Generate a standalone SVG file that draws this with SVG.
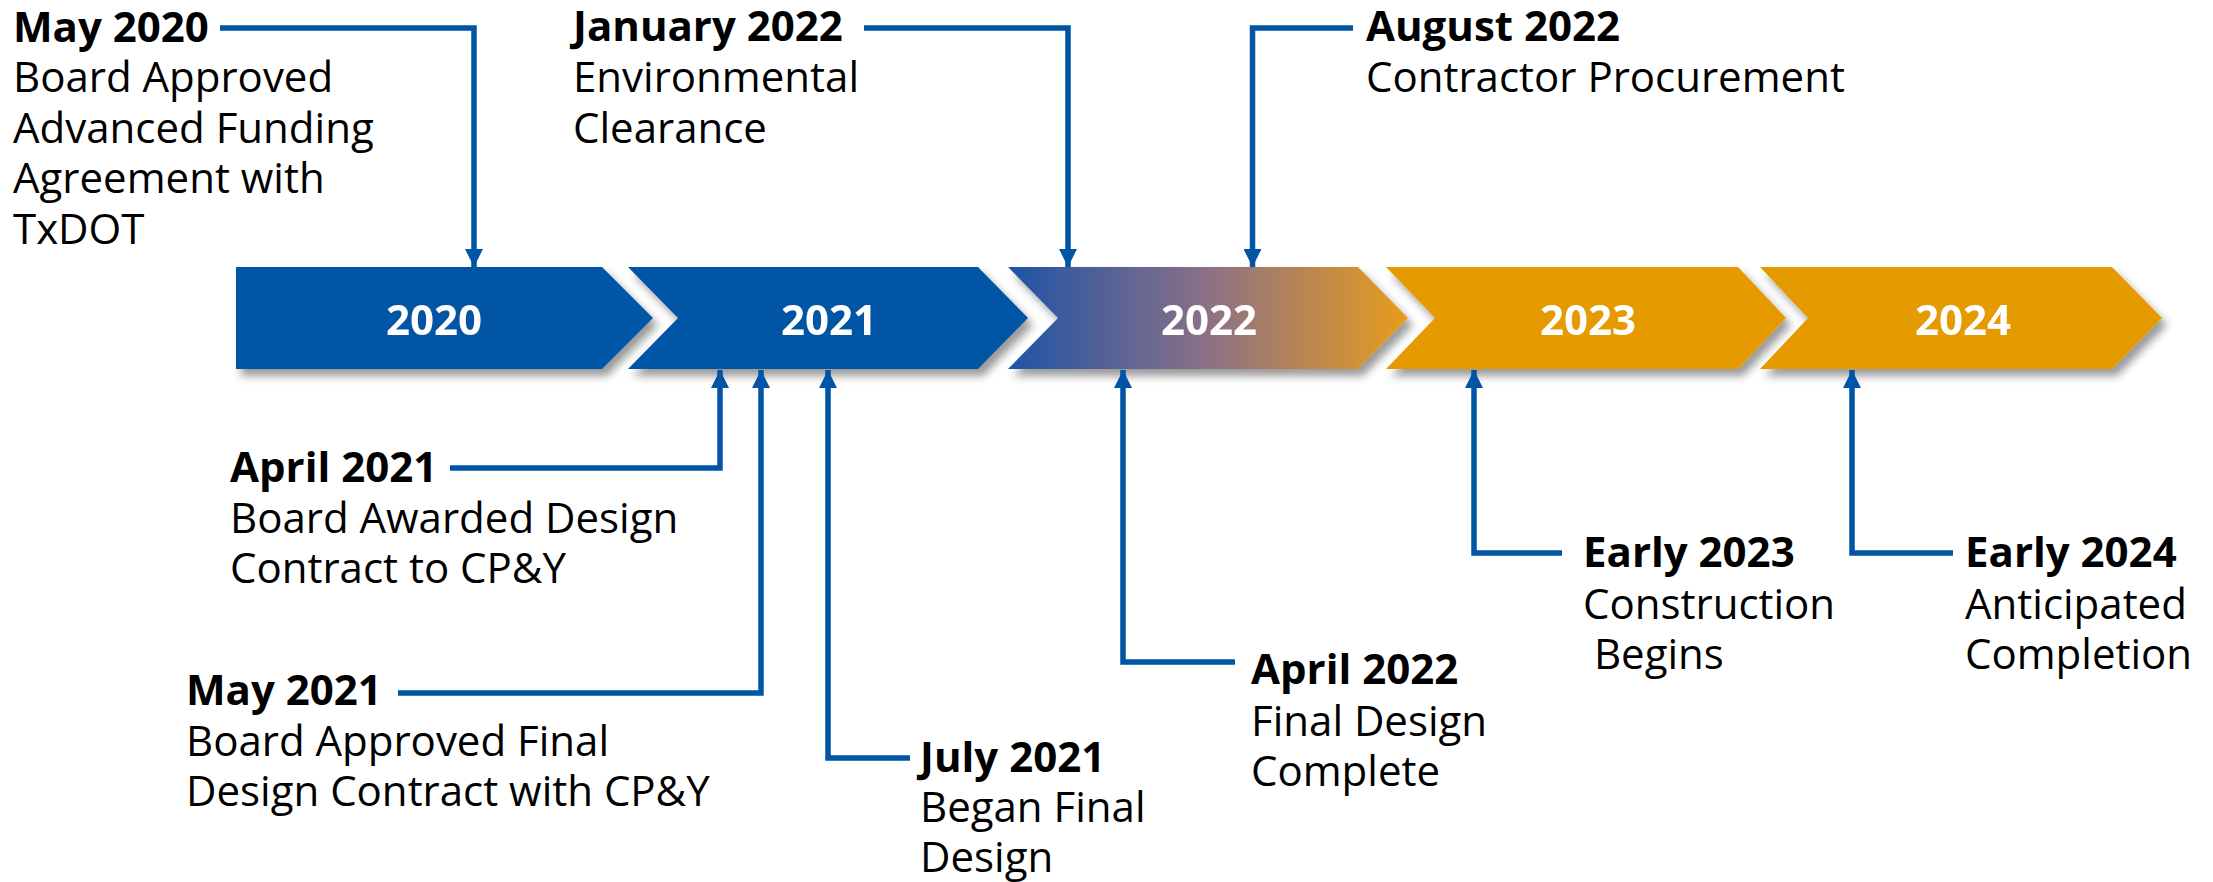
<svg xmlns="http://www.w3.org/2000/svg" width="2213" height="882" viewBox="0 0 2213 882">
<style>
.t{font-family:"Open Sans","Noto Sans","Liberation Sans",sans-serif;font-size:42px;fill:#000}
.b{font-weight:bold}
.yr{font-family:"Open Sans","Noto Sans","Liberation Sans",sans-serif;font-size:42px;font-weight:bold;fill:#fff;text-anchor:middle}
.blue{fill:#0254A5}
.orange{fill:#E59B00}
.con{fill:none;stroke:#0254A5;stroke-width:5.5;marker-end:url(#ah)}
</style>
<defs>
<filter id="sh" x="-5%" y="-20%" width="115%" height="150%">
<feDropShadow dx="5" dy="7" stdDeviation="4" flood-color="#000" flood-opacity="0.4"/>
</filter>
<linearGradient id="g22" gradientUnits="userSpaceOnUse" x1="1008" y1="0" x2="1408" y2="0">
<stop offset="0" stop-color="#1E53A6"/>
<stop offset="0.5" stop-color="#8C7186"/>
<stop offset="1" stop-color="#E89C1C"/>
</linearGradient>
<marker id="ah" viewBox="0 0 18 18" refX="18" refY="9" markerWidth="18" markerHeight="18" markerUnits="userSpaceOnUse" orient="auto">
<path d="M0,0 L18,9 L0,18 Z" fill="#0254A5"/>
</marker>
</defs>
<rect width="2213" height="882" fill="#fff"/>
<g id="chevrons" filter="url(#sh)">
<g id="y2020"><path class="blue" d="M236,267 H602 L653,318 L602,369 H236 Z"/><text class="yr" x="434" y="335">2020</text></g>
<g id="y2021"><path class="blue" d="M628,267 H978 L1028,318 L978,369 H628 L678,318 Z"/><text class="yr" x="829" y="335">2021</text></g>
<g id="y2022"><path fill="url(#g22)" d="M1008,267 H1358 L1408,318 L1358,369 H1008 L1058,318 Z"/><text class="yr" x="1209" y="335">2022</text></g>
<g id="y2023"><path class="orange" d="M1386,267 H1738 L1786,318 L1738,369 H1386 L1435,318 Z"/><text class="yr" x="1588" y="335">2023</text></g>
<g id="y2024"><path class="orange" d="M1760,267 H2112 L2162,318 L2112,369 H1760 L1808,318 Z"/><text class="yr" x="1963" y="335">2024</text></g>
</g>
<g id="connectors">
<path class="con" d="M220,28 H474 V267"/>
<path class="con" d="M864,28 H1068 V267"/>
<path class="con" d="M1353,28 H1252.5 V267"/>
<path class="con" d="M450,468 H720 V370"/>
<path class="con" d="M398,693 H761 V370"/>
<path class="con" d="M910,758 H828 V370"/>
<path class="con" d="M1235,662 H1123 V370"/>
<path class="con" d="M1562,553 H1474 V370"/>
<path class="con" d="M1953,553 H1852 V370"/>
</g>
<g id="m-may2020">
<text class="t b" x="13" y="41.5">May 2020</text>
<text class="t" x="13" y="92">Board Approved</text>
<text class="t" x="13" y="142.5">Advanced Funding</text>
<text class="t" x="13" y="193">Agreement with</text>
<text class="t" x="13" y="243.5">TxDOT</text>
</g>
<g id="m-jan2022">
<text class="t b" x="573" y="41">January 2022</text>
<text class="t" x="573" y="92">Environmental</text>
<text class="t" x="573" y="142.5">Clearance</text>
</g>
<g id="m-aug2022">
<text class="t b" x="1366" y="41">August 2022</text>
<text class="t" x="1366" y="92">Contractor Procurement</text>
</g>
<g id="m-apr2021">
<text class="t b" x="230" y="481.5">April 2021</text>
<text class="t" x="230" y="532.5">Board Awarded Design</text>
<text class="t" x="230" y="583">Contract to CP&amp;Y</text>
</g>
<g id="m-may2021">
<text class="t b" x="186" y="705">May 2021</text>
<text class="t" x="186" y="756">Board Approved Final</text>
<text class="t" x="186" y="806">Design Contract with CP&amp;Y</text>
</g>
<g id="m-jul2021">
<text class="t b" x="920" y="771.5">July 2021</text>
<text class="t" x="920" y="822">Began Final</text>
<text class="t" x="920" y="872">Design</text>
</g>
<g id="m-apr2022">
<text class="t b" x="1251" y="684">April 2022</text>
<text class="t" x="1251" y="735.5">Final Design</text>
<text class="t" x="1251" y="786">Complete</text>
</g>
<g id="m-early2023">
<text class="t b" x="1583" y="566.5">Early 2023</text>
<text class="t" x="1583" y="619">Construction</text>
<text class="t" x="1583" y="669" xml:space="preserve"> Begins</text>
</g>
<g id="m-early2024">
<text class="t b" x="1965" y="566.5">Early 2024</text>
<text class="t" x="1965" y="619">Anticipated</text>
<text class="t" x="1965" y="669">Completion</text>
</g>
</svg>
